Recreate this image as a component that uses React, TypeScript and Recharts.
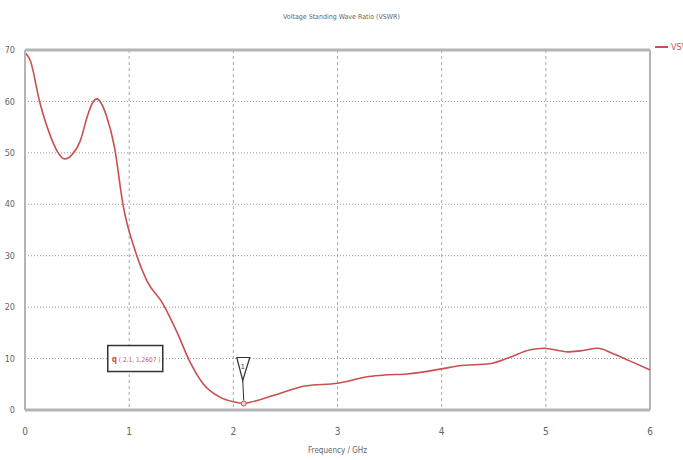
import {
  LineChart,
  Line,
  XAxis,
  YAxis,
  CartesianGrid,
  Legend,
  ReferenceLine,
  ReferenceDot,
} from 'recharts';

// VSWR sweep
const freqGHz = [
  0, 0.05, 0.14, 0.24, 0.31, 0.38, 0.45, 0.53, 0.6, 0.65, 0.69, 0.73, 0.78,
  0.86, 0.94, 1.06, 1.17, 1.32, 1.46, 1.58, 1.71, 1.87, 2.0, 2.1, 2.16, 2.38,
  2.7, 3.0, 3.3, 3.45, 3.67, 4.0, 4.17, 4.46, 4.65, 4.85, 4.98, 5.21, 5.33,
  5.5, 5.63, 5.8, 6.0,
];
const vswr = [
  69.5, 68, 60, 53.5, 50.3, 48.8, 49.6, 52.3, 57.2, 59.8, 60.5, 59.7, 57.3,
  51, 40, 30.8, 25.1, 20.8, 15.1, 9.5, 5.1, 2.5, 1.6, 1.27, 1.5, 2.8,
  4.7, 5.2, 6.5, 6.8, 7.0, 8.0, 8.6, 9.0, 10.2, 11.7, 12.0, 11.3, 11.5,
  12.0, 11.1, 9.6, 7.8,
];
const xTicks = [0, 1, 2, 3, 4, 5, 6];
const yTicks = [0, 10, 20, 30, 40, 50, 60, 70];
const markerX = 2.1;
const markerY = 1.2607;

const LINE_COLOR = '#c8504f';
const AXIS_COLOR = '#b4b4b4';
const TEXT_COLOR = '#666';
const NARROW = "'Liberation Sans Narrow', 'DejaVu Sans Condensed', sans-serif";

const data = freqGHz.map((f, i) => ({ f, vswr: vswr[i] }));

function MarkerShape(props: any) {
  const { cx, cy } = props;
  if (cx == null || cy == null) return null;
  return (
    <g>
      {/* info box */}
      <rect x={cx - 136} y={cy - 58} width={55} height={26} fill="#fff" stroke="#333" strokeWidth={1.5} />
      <text x={cx - 132} y={cy - 42} fontSize={8} fill={LINE_COLOR} fontFamily={NARROW} fontWeight="bold">q</text>
      <text x={cx - 125} y={cy - 42} fontSize={6.5} fill={LINE_COLOR} fontFamily={NARROW}>
        ( 2.1, 1.2607 )
      </text>
      {/* triangle flag */}
      <polygon
        points={`${cx - 7},${cy - 46} ${cx + 6},${cy - 46} ${cx - 1},${cy - 23}`}
        fill="#fff"
        stroke="#333"
        strokeWidth={1.2}
      />
      <text x={cx - 1} y={cy - 35} fontSize={7} textAnchor="middle" fill="#333" fontFamily={NARROW}>1</text>
      <line x1={cx - 1} y1={cy - 23} x2={cx} y2={cy - 3} stroke="#333" strokeWidth={1} />
      <circle cx={cx} cy={cy} r={2.5} fill="#f4d0d0" stroke={LINE_COLOR} strokeWidth={1} />
    </g>
  );
}

function LegendContent() {
  return (
    <div style={{ display: 'flex', alignItems: 'center', whiteSpace: 'nowrap', fontFamily: NARROW, fontSize: 9, color: LINE_COLOR }}>
      <svg width={13} height={8} style={{ flexShrink: 0 }}>
        <line x1={0} y1={4} x2={13} y2={4} stroke={LINE_COLOR} strokeWidth={2} />
      </svg>
      <span style={{ marginLeft: 3, flexShrink: 0 }}>VSWR</span>
    </div>
  );
}

export default function App() {
  return (
    <div style={{ position: 'absolute', left: 0, top: 0, width: 683, height: 460, overflow: 'hidden', background: '#fff' }}>
      <div
        style={{
          position: 'absolute',
          top: 13,
          left: 0,
          width: 683,
          textAlign: 'center',
          fontFamily: NARROW,
          fontSize: 7,
          color: TEXT_COLOR,
        }}
      >
        Voltage Standing Wave Ratio (VSWR)
      </div>
      <LineChart width={683} height={460} data={data} margin={{ top: 40, right: 33, bottom: 5, left: 0 }}>
        <CartesianGrid horizontal={false} stroke="#aaa" strokeDasharray="3 3" />
        <CartesianGrid vertical={false} stroke="#999" strokeDasharray="1 2" />
        <XAxis
          dataKey="f"
          type="number"
          domain={[0, 6]}
          ticks={xTicks}
          height={45}
          stroke={AXIS_COLOR}
          strokeWidth={3}
          tickLine={false}
          tickMargin={12}
          tick={{ fontSize: 10, fill: TEXT_COLOR, fontFamily: NARROW }}
          label={{ value: 'Frequency / GHz', position: 'insideBottom', offset: 2, fontSize: 8, fill: TEXT_COLOR, fontFamily: NARROW }}
        />
        <YAxis
          type="number"
          domain={[0, 70]}
          ticks={yTicks}
          width={25}
          stroke={AXIS_COLOR}
          strokeWidth={2}
          tickLine={false}
          tickMargin={4}
          tick={{ fontSize: 9, fill: TEXT_COLOR, fontFamily: NARROW }}
        />
        <ReferenceLine y={70} stroke={AXIS_COLOR} strokeWidth={3} />
        <ReferenceLine x={6} stroke={AXIS_COLOR} strokeWidth={2} />
        <Legend
          verticalAlign="top"
          align="right"
          content={<LegendContent />}
          wrapperStyle={{ position: 'absolute', left: 655, top: 42, width: 28, overflow: 'hidden' }}
        />
        <Line
          type="monotone"
          dataKey="vswr"
          stroke={LINE_COLOR}
          strokeWidth={1.6}
          dot={false}
          isAnimationActive={false}
        />
        <ReferenceDot x={markerX} y={markerY} shape={<MarkerShape />} />
      </LineChart>
    </div>
  );
}
